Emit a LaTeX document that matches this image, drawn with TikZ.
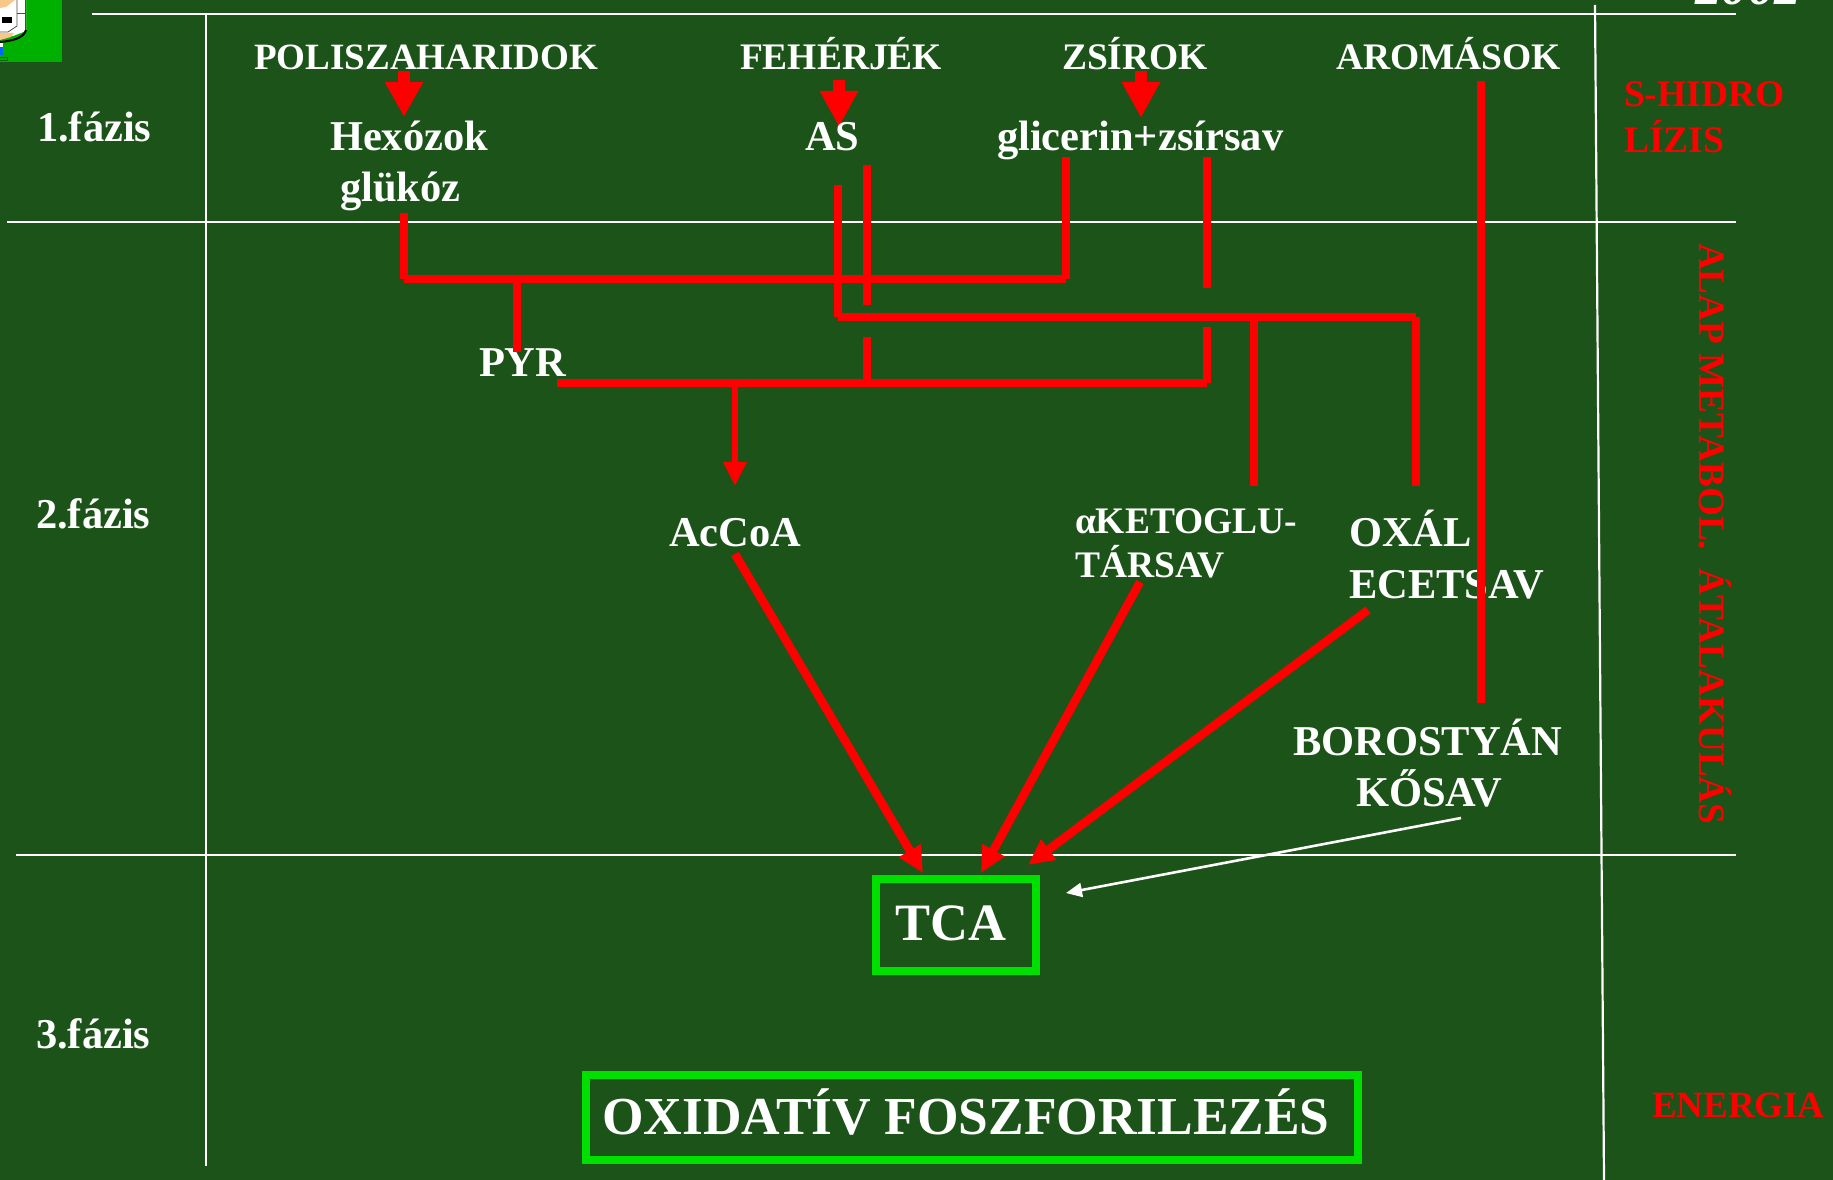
\documentclass[tikz,border=0pt]{standalone}
\usepackage{fontspec}
\setmainfont{Liberation Serif}
\usetikzlibrary{arrows.meta}
\definecolor{bgg}{HTML}{1B5318}
\definecolor{boxg}{HTML}{00E000}
\definecolor{logog}{HTML}{00B000}
\definecolor{peach}{HTML}{F8C888}
\tikzset{
 x=1pt,y=-1pt,
 txt/.style={anchor=base west,inner sep=0pt,outer sep=0pt,text=white,font=\fontsize{42.5}{42.5}\selectfont\bfseries},
 toptxt/.style={txt,font=\fontsize{37.5}{37.5}\selectfont\bfseries},
 redtxt/.style={toptxt,text=red},
 grid/.style={draw=white,line width=2.2pt},
 rl/.style={draw=red,line width=8pt},
 rlc/.style={draw=red,line width=12pt},
 rlb/.style={draw=red,line width=8.5pt,-{Triangle[length=26pt,width=24pt]}},
 wa/.style={draw=white,line width=2.6pt,-{Triangle[length=16pt,width=14pt]}},
 gbox/.style={draw=boxg,line width=8pt,fill=none},
}
\begin{document}
\begin{tikzpicture}
\useasboundingbox[fill=bgg] (0,0) rectangle (1833,1180);
\clip (0,0) rectangle (1833,1180);
% logo
\fill[logog] (0,0) rectangle (62,62);
\fill[white] (0,0) -- (26,0) -- (26,31) -- (13,36) -- (0,33) -- cycle;
\fill[peach] (0,0) -- (15,0) -- (6,7) -- (0,8) -- cycle;
\fill[black] (2,17) rectangle (12,23);
\draw[black!70,line width=0.8pt] (17,0) -- (17,26) -- (8,32) -- (0,32);
\draw[black!70,line width=0.8pt] (25,0) -- (25,30);
\draw[black!70,line width=0.8pt] (17,13) -- (25,13);
\fill[peach] (0,33) -- (14,33) -- (11,37) -- (0,40) -- cycle;
\draw[black,line width=2pt] (26,30) .. controls (24,38) and (12,41) .. (0,42);
\fill[white] (0,43) rectangle (3,47);
\fill[blue!60!cyan] (0,47) rectangle (3,55);
\draw[green!40!black,line width=0.8pt] (0,57) -- (7,57) -- (7,60) -- (0,60);
% grid
\draw[grid] (92,14) -- (1736,14);
\draw[grid] (206,14) -- (206,1166);
\draw[grid] (7,221.7) -- (1736,221.7);
\draw[grid] (16,855) -- (1736,855);
\draw[grid] (1595,5) -- (1604,1180);
% junctions
\coordinate (a1s) at (404,71); \coordinate (a1e) at (404,117);
\coordinate (a2s) at (839,80); \coordinate (a2e) at (839,127);
\coordinate (a3s) at (1141,71); \coordinate (a3e) at (1141,118);
\coordinate (g0) at (404,213); \coordinate (g1) at (404,279); \coordinate (g2) at (1066,279); \coordinate (g3) at (1066,157);
\coordinate (p0) at (517,279); \coordinate (p1) at (517,352);
\coordinate (s0) at (838,185); \coordinate (s1) at (838,317); \coordinate (s2) at (1416,317); \coordinate (s3) at (1416,486);
\coordinate (k0) at (1254,317); \coordinate (k1) at (1254,486);
\coordinate (b1) at (867,165); \coordinate (b2) at (867,305); \coordinate (b3) at (867,337); \coordinate (b4) at (867,383);
\coordinate (c1) at (1207,157); \coordinate (c2) at (1207,288); \coordinate (c3) at (1207,327); \coordinate (c4) at (1207,383);
\coordinate (h0) at (557,383);
\coordinate (d0) at (735,383); \coordinate (d1) at (735,486);
\coordinate (ar0) at (1481,81); \coordinate (ar1) at (1481,703);
\coordinate (t1s) at (735,554); \coordinate (t1e) at (923,873);
\coordinate (t2s) at (1140,582); \coordinate (t2e) at (981,873);
\coordinate (t3s) at (1368,610); \coordinate (t3e) at (1028,865);
\coordinate (w0) at (1461,818); \coordinate (w1) at (1066,893);
% short arrows lie under the labels
\draw[rlc,-{Triangle[length=35pt,width=36pt]}] (a1s) -- (a1e);
\draw[rlc,-{Triangle[length=36pt,width=36pt]}] (a2s) -- (a2e);
\draw[rlc,-{Triangle[length=36pt,width=36pt]}] (a3s) -- (a3e);
% labels
\node[txt] (f1) at (37,142) {1.fázis};
\node[txt] (f2) at (36,528) {2.fázis};
\node[txt] (f3) at (36,1048) {3.fázis};
\node[toptxt,font=\fontsize{37.1}{37}\selectfont\bfseries] (poli) at (254,70) {POLISZAHARIDOK};
\node[toptxt] (feh) at (740,70) {FEHÉRJÉK};
\node[toptxt] (zsir) at (1062,70) {ZSÍROK};
\node[toptxt] (arom) at (1336,70) {AROMÁSOK};
\node[txt] (hex) at (330,150) {Hexózok};
\node[txt] (glu) at (340,201) {glükóz};
\node[txt] (as) at (805,150) {AS};
\node[txt] (gli) at (997,150) {glicerin+zsírsav};
\node[txt] (pyr) at (479,376) {PYR};
\node[txt] (acc) at (669,546.5) {AcCoA};
\node[toptxt] (ket) at (1075,533) {αKETOGLU-};
\node[toptxt] (tar) at (1075,577) {TÁRSAV};
\node[txt] (oxa) at (1349,546.5) {OXÁL};
\node[txt] (ece) at (1349,598) {ECETSAV};
\node[txt] (bor) at (1293,755) {BOROSTYÁN};
\node[txt] (kos) at (1356,806) {KŐSAV};
\node[redtxt] (shi) at (1624,107) {S-HIDRO};
\node[redtxt] (liz) at (1624,152) {LÍZIS};
\node[redtxt,font=\fontsize{37}{37}\selectfont\bfseries] (ene) at (1652,1117) {ENERGIA};
\node[redtxt,font=\fontsize{37.2}{37}\selectfont\bfseries,rotate=-90] (ala) at (1699,243) {ALAP METABOL.\ \ ÁTALAKULÁS};
\node[txt,font=\fontsize{53}{53}\selectfont\bfseries\itshape] (yr) at (1695,5) {2002};
% boxes
\node[gbox,minimum width=160pt,minimum height=92pt,inner sep=0pt] (tcabox) at (956,925) {};
\node[txt,font=\fontsize{52.5}{52}\selectfont\bfseries,anchor=base] (tca) at (951,940.5) {TCA};
\node[gbox,minimum width=772pt,minimum height=85pt,inner sep=0pt] (oxbox) at (972,1117) {};
\node[txt,font=\fontsize{53.4}{53}\selectfont\bfseries,anchor=base] (oxf) at (966,1134) {OXIDATÍV FOSZFORILEZÉS};
% red connectors
\draw[rl,line cap=square] (g1) -- (g2);
\draw[rl] (g0) -- (g1);
\draw[rl] (g2) -- (g3);
\draw[rl] (p0) -- (p1);
\draw[rl] (s0) -- (s1);
\draw[rl] (s1) -- (s2);
\draw[rl] (s2) -- (s3);
\draw[rl] (k0) -- (k1);
\draw[rl] (b1) -- (b2);
\draw[rl] (b3) -- (b4);
\draw[rl] (c1) -- (c2);
\draw[rl] (c3) -- (c4);
\draw[rl] (c4) -- (h0);
\draw[draw=red,line width=6pt,-{Triangle[length=24pt,width=22pt]}] (d0) -- (d1);
\draw[rl] (ar0) -- (ar1);
\draw[rlb] (t1s) -- (t1e);
\draw[rlb] (t2s) -- (t2e);
\draw[rlb] (t3s) -- (t3e);
\draw[wa] (w0) -- (w1);
\end{tikzpicture}
\end{document}
